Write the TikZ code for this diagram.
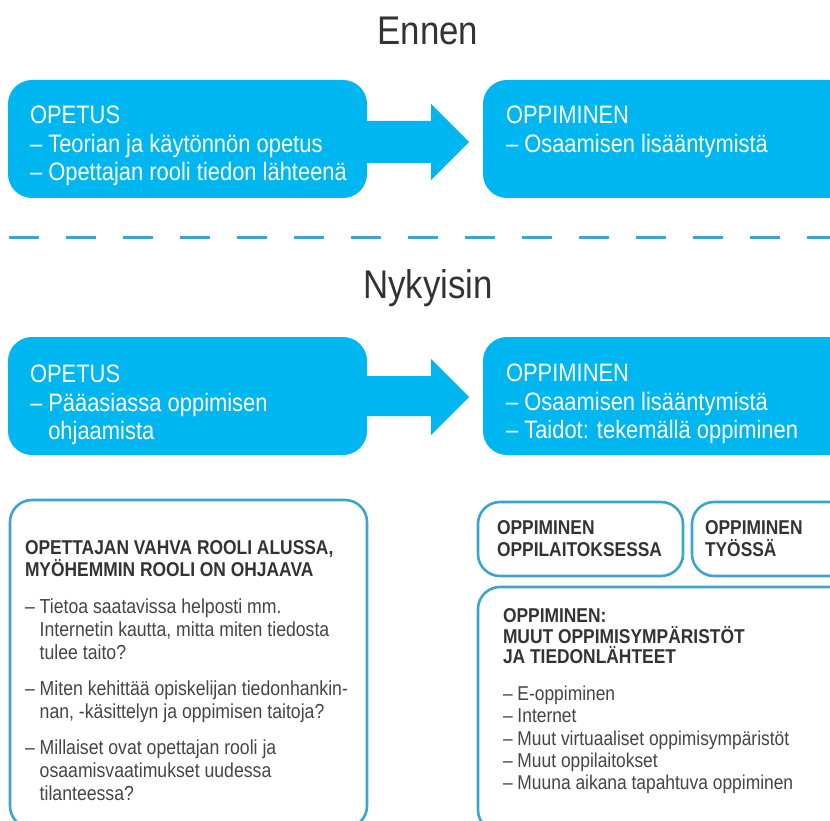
\documentclass[tikz,border=0pt]{standalone}
\usepackage{fontspec}
\setmainfont{Liberation Sans}[FakeStretch=0.87]
\usetikzlibrary{calc}
\definecolor{c00B6F0}{RGB}{0,182,240}
\definecolor{c3FA4CB}{RGB}{63,164,203}
\definecolor{c333333}{RGB}{51,51,51}
\definecolor{c454545}{RGB}{69,69,69}

\tikzset{
  bluebox/.style={fill=c00B6F0, rounded corners=24pt, anchor=north west},
  framebox/.style={draw=c3FA4CB, fill=white, line width=2.6pt, rounded corners=22pt, anchor=north west},
  bluetext/.style={text=white, anchor=north west, align=left, font=\fontsize{25.2}{28.5}\selectfont},
  headtext/.style={text=c333333, anchor=north west, align=left, font=\bfseries\fontsize{20}{21.5}\selectfont},
  bodytext/.style={text=c454545, anchor=north west, align=left, font=\fontsize{20.3}{23}\selectfont},
  listtext/.style={text=c454545, anchor=north west, align=left, font=\fontsize{20}{22.3}\selectfont},
  titletext/.style={text=c333333, anchor=base, font=\fontsize{40}{44}\selectfont},
  dashline/.style={draw=c3FA4CB, line width=3pt, dash pattern=on 30pt off 27pt},
}

\begin{document}
\begin{tikzpicture}[x=1pt,y=1pt,yscale=-1,inner sep=0pt,outer sep=0pt]
  \useasboundingbox (0,0) rectangle (830,821);

  % Ennen
  \node[titletext] (ennen) at (428,45) {Ennen};
  \node[bluebox, minimum width=359pt, minimum height=118pt] (opetusA) at (8,80) {};
  \node[bluebox, minimum width=370pt, minimum height=118pt] (oppiminenA) at (483,80) {};
  \fill[c00B6F0] ($(opetusA.east)+(-4,-18)$) -- ($(oppiminenA.west)+(-52,-18)$) --
    ($(oppiminenA.west)+(-52,-35)$) -- ($(oppiminenA.west)+(-14,3)$) --
    ($(oppiminenA.west)+(-52,41)$) -- ($(oppiminenA.west)+(-52,24)$) --
    ($(opetusA.east)+(-4,24)$) -- cycle;
  \node[bluetext] (opetusAtext) at (30,106)
    {OPETUS\\– Teorian ja käytönnön opetus\\– Opettajan rooli tiedon lähteenä};
  \node[bluetext] (oppiminenAtext) at (506,106)
    {OPPIMINEN\\– Osaamisen lisääntymistä};

  \coordinate (dashL) at (9,238);
  \coordinate (dashR) at (840,238);
  \draw[dashline] (dashL) -- (dashR);

  % Nykyisin
  \node[titletext] (nykyisin) at (428,298) {Nykyisin};
  \node[bluebox, minimum width=359pt, minimum height=118pt] (opetusB) at (8,337) {};
  \node[bluebox, minimum width=370pt, minimum height=118pt] (oppiminenB) at (483,337) {};
  \fill[c00B6F0] ($(opetusB.east)+(-4,-20)$) -- ($(oppiminenB.west)+(-52,-20)$) --
    ($(oppiminenB.west)+(-52,-37)$) -- ($(oppiminenB.west)+(-14,1)$) --
    ($(oppiminenB.west)+(-52,39)$) -- ($(oppiminenB.west)+(-52,20)$) --
    ($(opetusB.east)+(-4,20)$) -- cycle;
  \node[bluetext] (opetusBtext) at (30,365)
    {OPETUS\\– Pääasiassa oppimisen\\\phantom{– }ohjaamista};
  \node[bluetext] (oppiminenBtext) at (506,364)
    {OPPIMINEN\\– Osaamisen lisääntymistä\\– Taidot: tekemällä oppiminen};

  % opettajan rooli
  \node[framebox, minimum width=357pt, minimum height=328pt] (roleBox) at (10,500) {};
  \node[headtext] (roleHead) at (25,541)
    {OPETTAJAN VAHVA ROOLI ALUSSA,\\MYÖHEMMIN ROOLI ON OHJAAVA};
  \node[bodytext] (roleList) at (25,599)
    {– Tietoa saatavissa helposti mm.\\\phantom{– }Internetin kautta, mitta miten tiedosta\\\phantom{– }tulee taito?\\[13pt]%
     – Miten kehittää opiskelijan tiedonhankin-\\\phantom{– }nan, -käsittelyn ja oppimisen taitoja?\\[13pt]%
     – Millaiset ovat opettajan rooli ja\\\phantom{– }osaamisvaatimukset uudessa\\\phantom{– }tilanteessa?};

  % oppimisen paikat
  \node[framebox, minimum width=205pt, minimum height=74pt] (schoolBox) at (478,502) {};
  \node[headtext] (schoolText) at (497,521) {OPPIMINEN\\OPPILAITOKSESSA};
  \node[framebox, minimum width=165pt, minimum height=74pt] (workBox) at (692,502) {};
  \node[headtext] (workText) at (705,521) {OPPIMINEN\\TYÖSSÄ};
  \node[framebox, minimum width=375pt, minimum height=245pt] (otherBox) at (478,587) {};
  \node[headtext, font=\bfseries\fontsize{20}{20.5}\selectfont] (otherHead) at (503,609)
    {OPPIMINEN:\\MUUT OPPIMISYMPÄRISTÖT\\JA TIEDONLÄHTEET};
  \node[listtext] (otherList) at (503,686)
    {– E-oppiminen\\– Internet\\– Muut virtuaaliset oppimisympäristöt\\– Muut oppilaitokset\\– Muuna aikana tapahtuva oppiminen};
\end{tikzpicture}
\end{document}
